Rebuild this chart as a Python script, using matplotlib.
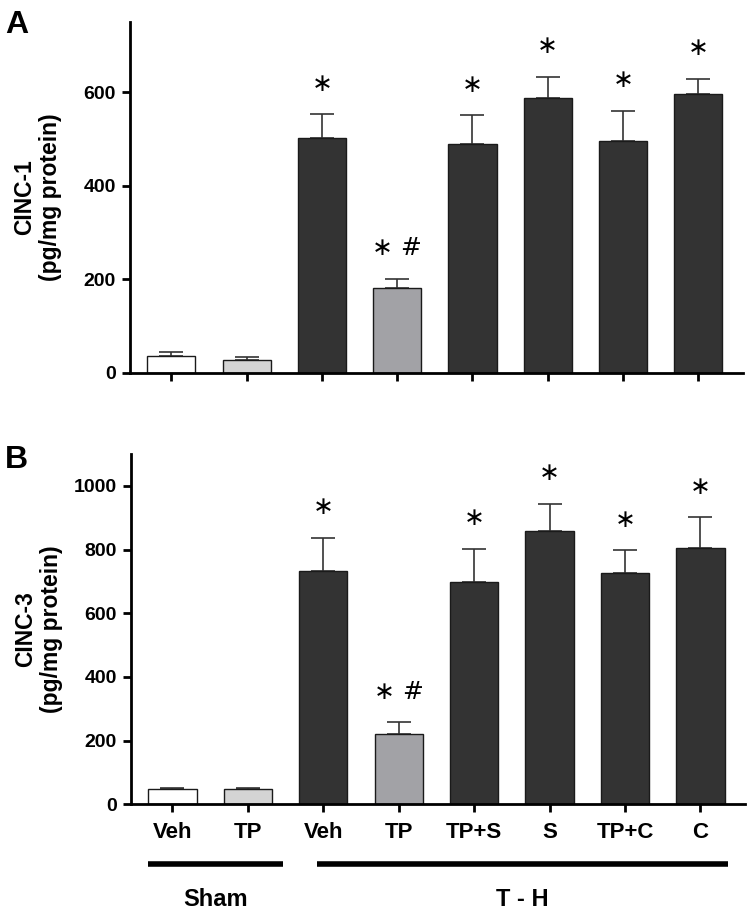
import matplotlib
matplotlib.use("Agg")
import matplotlib.pyplot as plt
import matplotlib.transforms as mtransforms

plt.rcParams['font.family'] = ['Liberation Sans', 'DejaVu Sans']

groups = ["Veh", "TP", "Veh", "TP", "TP+S", "S", "TP+C", "C"]
cinc1_mean = [37, 28, 501, 181, 490, 587, 495, 597]
cinc1_err = [8, 6, 52, 20, 61, 46, 65, 32]
cinc3_mean = [47, 47, 733, 220, 697, 857, 728, 806]
cinc3_err = [5, 5, 104, 37, 106, 87, 70, 96]
cinc1_marks = ["", "", "∗", "∗ #", "∗", "∗", "∗", "∗"]
cinc3_marks = ["", "", "∗", "∗ #", "∗", "∗", "∗", "∗"]
colors = ["#ffffff", "#d4d4d4", "#333333", "#a2a2a6", "#333333", "#333333", "#333333", "#333333"]

fig = plt.figure(figsize=(7.51, 9.11), dpi=100)
axA = fig.add_axes([0.173, 0.5906, 0.816, 0.3853])
axB = fig.add_axes([0.1744, 0.1171, 0.8176, 0.3845])

x = list(range(len(groups)))

def draw(ax, means, errs, marks, ylim, yticks, ylabel, letter, ly, show_labels):
    ax.bar(x, means, width=0.64, color=colors, edgecolor="#1a1a1a", linewidth=1.0, zorder=2)
    ax.errorbar(x, means, yerr=[[0]*len(errs), errs], fmt="none", ecolor="#333333",
                elinewidth=1.2, capsize=8.5, capthick=1.2, zorder=1)
    for xi, m, e, s in zip(x, means, errs, marks):
        if s:
            ax.annotate(s, (xi, m + e), xytext=(0, 22), textcoords="offset points",
                        ha="center", va="center", fontsize=18, family=['DejaVu Sans'])
    ax.set_xlim(-0.55, 7.59)
    ax.set_ylim(0, ylim)
    ax.set_yticks(yticks)
    ax.set_yticklabels([str(t) for t in yticks], fontsize=14, fontweight="bold")
    ax.set_xticks(x)
    if show_labels:
        ax.set_xticklabels(groups, fontsize=16, fontweight="bold")
    else:
        ax.set_xticklabels([])
    for sp in ["top", "right"]:
        ax.spines[sp].set_visible(False)
    for sp in ["left", "bottom"]:
        ax.spines[sp].set_linewidth(2)
    ax.tick_params(axis="both", direction="out", width=2, length=6, pad=4)
    ax.tick_params(axis="x", length=6, pad=7)
    ax.set_ylabel(ylabel, fontsize=16.5, fontweight="bold", linespacing=1.15)
    ax.yaxis.set_label_coords(-0.111, 0.5)
    fig.text(0.007, ly, letter, fontsize=23, fontweight="bold", ha="left", va="top")

draw(axA, cinc1_mean, cinc1_err, cinc1_marks, 750, [0, 200, 400, 600],
     "CINC-1\n(pg/mg protein)", "A", 0.989, False)
draw(axB, cinc3_mean, cinc3_err, cinc3_marks, 1100, [0, 200, 400, 600, 800, 1000],
     "CINC-3\n(pg/mg protein)", "B", 0.511, True)

trans = mtransforms.blended_transform_factory(axB.transData, fig.transFigure)
axB.plot([-0.32, 1.46], [0.0516, 0.0516], transform=trans, color="black", lw=4, clip_on=False,
         solid_capstyle="butt")
axB.plot([1.91, 7.37], [0.0516, 0.0516], transform=trans, color="black", lw=4, clip_on=False,
         solid_capstyle="butt")
axB.text(0.57, 0.013, "Sham", transform=trans, ha="center", va="center", fontsize=17,
         fontweight="bold")
axB.text(4.64, 0.013, "T - H", transform=trans, ha="center", va="center", fontsize=17,
         fontweight="bold")

fig.savefig("out.png", dpi=100)
